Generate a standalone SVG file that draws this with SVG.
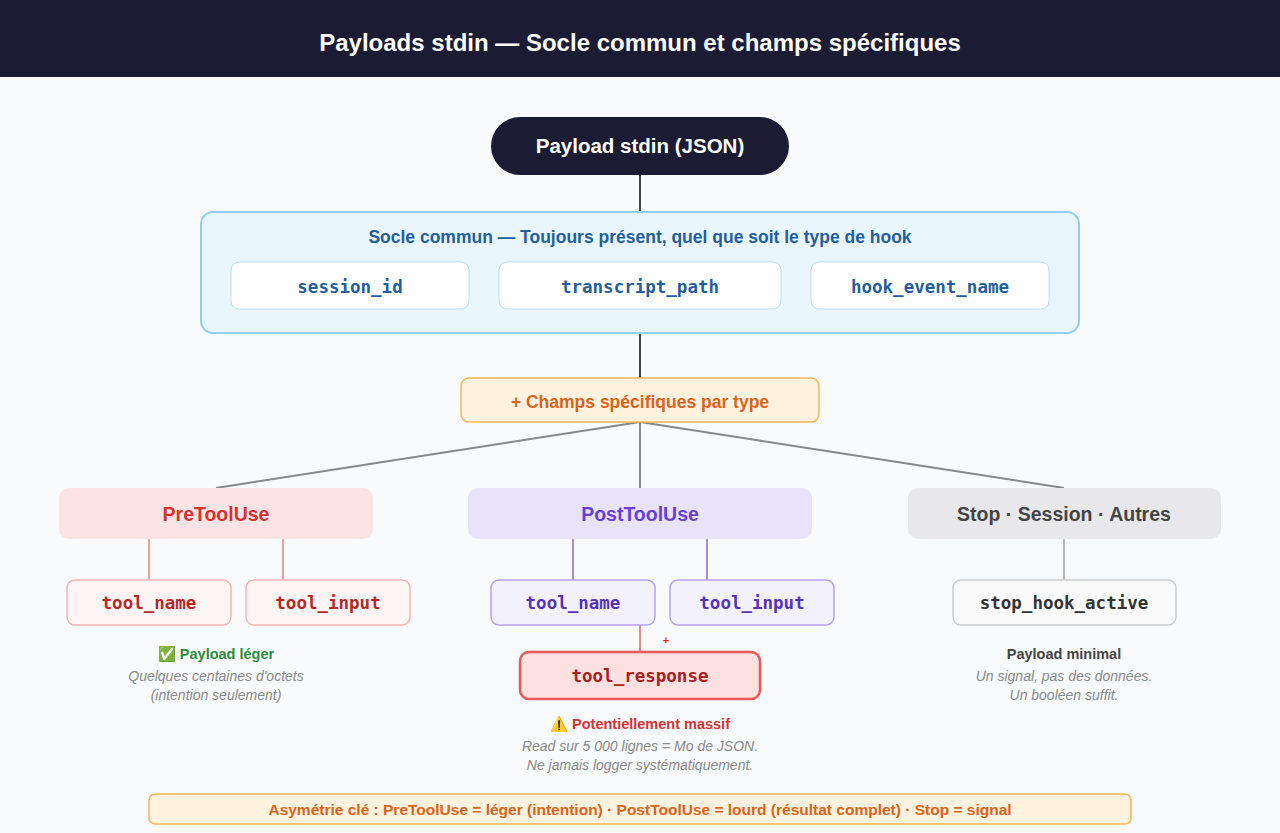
<svg xmlns="http://www.w3.org/2000/svg" width="1280" height="833" viewBox="0 0 1280 833">
<style>
text{font-family:"Liberation Sans",Arial,sans-serif;text-anchor:middle}
.m{font-family:"DejaVu Sans Mono","Liberation Mono",monospace;font-weight:bold;font-size:17.5px}
.b{font-weight:bold}
.n{font-size:14px;fill:#888;font-style:italic}
.c{fill:none;stroke-width:2}
</style>
<rect width="1280" height="833" fill="#f8fafc"/>
<rect width="1280" height="77" fill="#1b1b33"/>
<text x="640" y="51" class="b" font-size="24" fill="#fff">Payloads stdin — Socle commun et champs spécifiques</text>
<g id="connectors" class="c">
<path d="M640 175V212M640 333V378" stroke="#444"/>
<path d="M640 422L216 488M640 422V488M640 422L1064 488" stroke="#888"/>
<path d="M149 539V580M283 539V580" stroke="#f0a0a0"/>
<path d="M573 539V580M707 539V580" stroke="#a58ae8"/>
<path d="M640 625V652" stroke="#e88"/>
<path d="M1064 539V580" stroke="#bbb"/>
</g>
<text x="666" y="644" font-size="11" fill="#d33" class="b">+</text>
<g id="root"><rect x="491" y="117" width="298" height="58" rx="29" fill="#1b1b33"/><text x="640" y="153" class="b" font-size="20.5" fill="#fff">Payload stdin (JSON)</text></g>
<g id="socle"><rect x="201" y="212" width="878" height="121" rx="12" fill="#eaf6fd" stroke="#93cdf0" stroke-width="2"/>
<text x="640" y="243" class="b" font-size="17.5" fill="#235f9c">Socle commun — Toujours présent, quel que soit le type de hook</text>
<rect x="231" y="262" width="238" height="47" rx="8" fill="#fff" stroke="#b8def5"/><text x="350" y="293" class="m" fill="#235f9c">session_id</text>
<rect x="499" y="262" width="282" height="47" rx="8" fill="#fff" stroke="#b8def5"/><text x="640" y="293" class="m" fill="#235f9c">transcript_path</text>
<rect x="811" y="262" width="238" height="47" rx="8" fill="#fff" stroke="#b8def5"/><text x="930" y="293" class="m" fill="#235f9c">hook_event_name</text></g>
<g id="specific"><rect x="461" y="378" width="358" height="44" rx="8" fill="#fff3e0" stroke="#f5b75a" stroke-width="1.5"/><text x="640" y="408" class="b" font-size="17.5" fill="#d9641a">+ Champs spécifiques par type</text></g>
<g id="pre"><rect x="59" y="488" width="314" height="51" rx="10" fill="#fde4e4"/><text x="216" y="521" class="b" font-size="19.5" fill="#d63333">PreToolUse</text>
<rect x="67" y="580" width="164" height="45" rx="8" fill="#fff5f5" stroke="#f5b5b5" stroke-width="1.5"/><text x="149" y="609" class="m" fill="#b82828">tool_name</text>
<rect x="246" y="580" width="164" height="45" rx="8" fill="#fff5f5" stroke="#f5b5b5" stroke-width="1.5"/><text x="328" y="609" class="m" fill="#b82828">tool_input</text>
<text x="216" y="659" class="b" font-size="14.5" fill="#2e8b3a">✅ Payload léger</text>
<text x="216" y="681" class="n">Quelques centaines d'octets</text><text x="216" y="700" class="n">(intention seulement)</text></g>
<g id="post"><rect x="468" y="488" width="344" height="51" rx="10" fill="#e8e3fb"/><text x="640" y="521" class="b" font-size="19.5" fill="#6a3fd6">PostToolUse</text>
<rect x="491" y="580" width="164" height="45" rx="8" fill="#f4f1fe" stroke="#b5a2ee" stroke-width="1.5"/><text x="573" y="609" class="m" fill="#5533b8">tool_name</text>
<rect x="670" y="580" width="164" height="45" rx="8" fill="#f4f1fe" stroke="#b5a2ee" stroke-width="1.5"/><text x="752" y="609" class="m" fill="#5533b8">tool_input</text>
<rect x="520" y="652" width="240" height="47" rx="9" fill="#fde0e0" stroke="#e85a5a" stroke-width="2.5"/><text x="640" y="682" class="m" font-size="18.5" fill="#a82020">tool_response</text>
<text x="640" y="729" class="b" font-size="14.5" fill="#d63333">⚠️ Potentiellement massif</text>
<text x="640" y="751" class="n">Read sur 5 000 lignes = Mo de JSON.</text><text x="640" y="770" class="n">Ne jamais logger systématiquement.</text></g>
<g id="stop"><rect x="908" y="488" width="313" height="51" rx="10" fill="#e8e8ea"/><text x="1064" y="521" class="b" font-size="19.5" fill="#444">Stop · Session · Autres</text>
<rect x="953" y="580" width="223" height="45" rx="8" fill="#fafafa" stroke="#ccc" stroke-width="1.5"/><text x="1064" y="609" class="m" fill="#333">stop_hook_active</text>
<text x="1064" y="659" class="b" font-size="14.5" fill="#444">Payload minimal</text>
<text x="1064" y="681" class="n">Un signal, pas des données.</text><text x="1064" y="700" class="n">Un booléen suffit.</text></g>
<g id="footer"><rect x="149" y="794" width="982" height="30" rx="6" fill="#fff3e0" stroke="#f5b75a" stroke-width="1.5"/><text x="640" y="815" class="b" font-size="15.5" fill="#d9641a">Asymétrie clé : PreToolUse = léger (intention) · PostToolUse = lourd (résultat complet) · Stop = signal</text></g>
</svg>
